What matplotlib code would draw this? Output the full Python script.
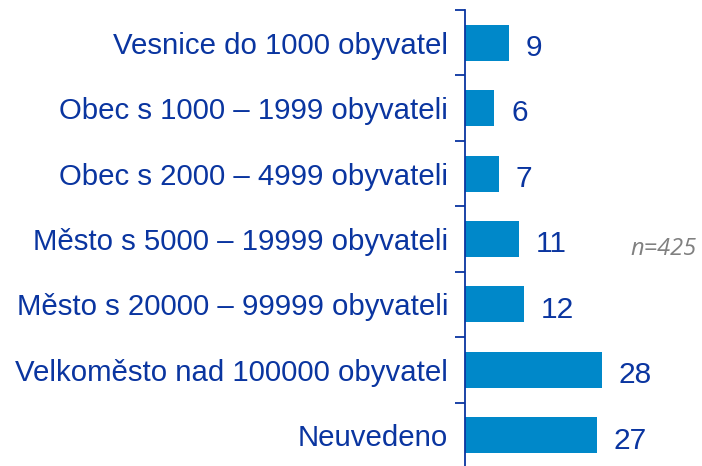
import matplotlib.pyplot as plt
import numpy as np

# Data
categories = ['Vesnice do 1000 obyvatel', 'Obec s 1000 \u2013 1999 obyvateli',
              'Obec s 2000 \u2013 4999 obyvateli', 'M\u011bsto s 5000 \u2013 19999 obyvateli',
              'M\u011bsto s 20000 \u2013 99999 obyvateli', 'Velkom\u011bsto nad 100000 obyvatel',
              'Neuvedeno']
values = [9, 6, 7, 11, 12, 28, 27]
note = 'n=425'

plt.rcParams['font.family'] = ['Liberation Sans', 'DejaVu Sans']
text_col = '#0a35a0'
bar_col = '#0088c9'

fig = plt.figure(figsize=(7.02, 4.66), dpi=100)
ax = fig.add_axes([465/702, -2/466, 235/702, 458/466])

y = np.arange(len(categories))
ax.barh(y, values, height=0.55, color=bar_col)
ax.set_ylim(len(categories) - 0.5, -0.5)
ax.set_xlim(0, 235/4.9)

for yi, v in zip(y, values):
    ax.text(v + 3.4, yi + 0.08, str(v), va='center', ha='left',
            fontsize=21.5, color=text_col)

ax.set_yticks(y)
ax.set_yticklabels(categories, fontsize=21.2, color=text_col)
ax.tick_params(axis='y', which='major', length=0, pad=12)
ax.set_yticks(np.arange(-0.5, len(categories) + 0.5, 1), minor=True)
ax.tick_params(axis='y', which='minor', length=7, width=1.3, color=text_col, direction='out')
ax.set_xticks([])

for s in ['top', 'right', 'bottom']:
    ax.spines[s].set_visible(False)
ax.spines['left'].set_color(text_col)
ax.spines['left'].set_linewidth(1.3)

fig.text(663/702, 1 - 249/466, note, ha='center', va='center', fontsize=17,
         style='italic', color='#808080', family=['Open Sans', 'DejaVu Sans'])

fig.savefig('out.png', dpi=100)
